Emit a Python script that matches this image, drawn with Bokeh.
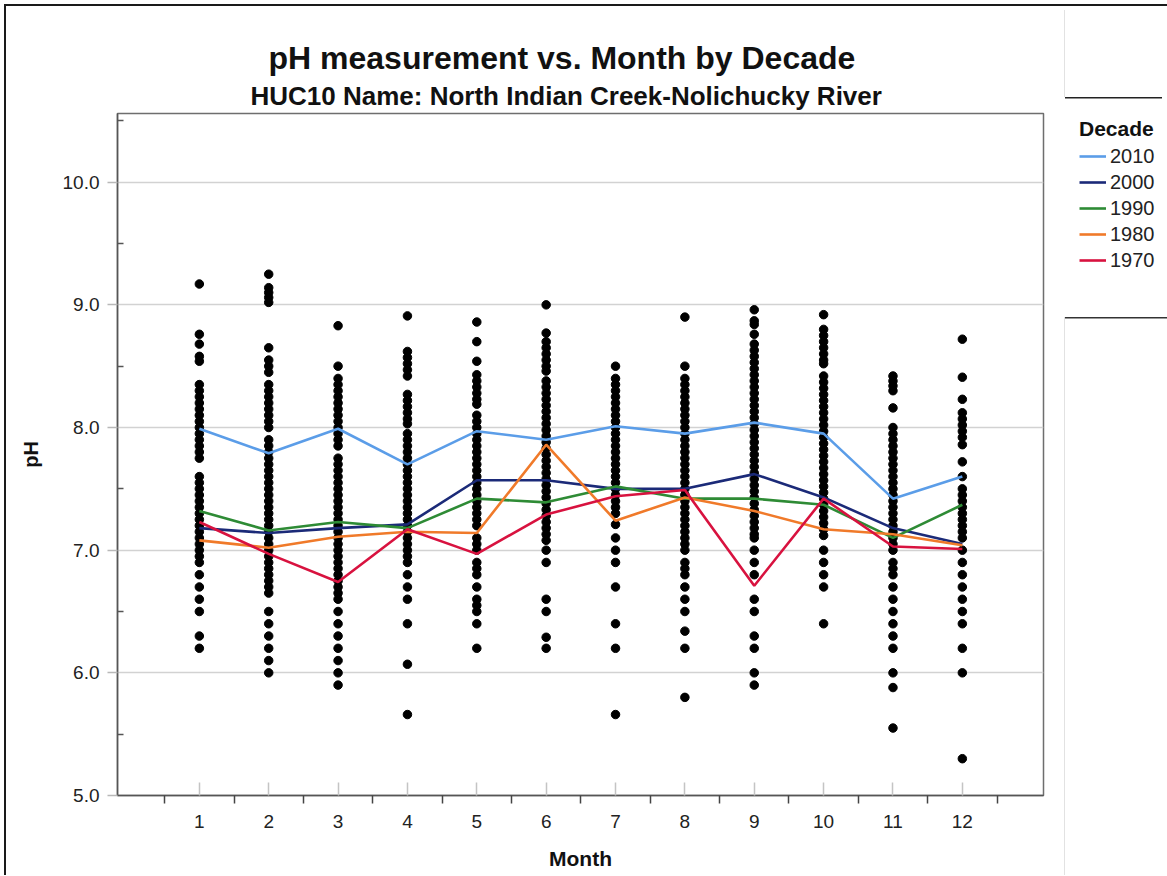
from bokeh.plotting import figure
from bokeh.models import (Range1d, FixedTicker, NumeralTickFormatter, Legend, LegendItem, Title)
from bokeh.embed import file_html
from bokeh.resources import INLINE

# ---------------- data ----------------
months = [1, 2, 3, 4, 5, 6, 7, 8, 9, 10, 11, 12]
month_labels = ["1", "2", "3", "4", "5", "6", "7", "8", "9", "10", "11", "12"]

ph_m1 = [9.17, 8.76, 8.68, 8.58, 8.54, 8.35, 8.3, 8.25, 8.2, 8.15, 8.1, 8.05, 8.0, 7.95, 7.9, 7.85,
         7.8, 7.75, 7.6, 7.55, 7.5, 7.45, 7.4, 7.35, 7.3, 7.25, 7.2, 7.15, 7.1, 7.05, 7.0, 6.95, 6.9,
         6.8, 6.7, 6.6, 6.5, 6.3, 6.2]
ph_m2 = [9.25, 9.14, 9.1, 9.06, 9.02, 8.65, 8.55, 8.5, 8.45, 8.35, 8.3, 8.25, 8.2, 8.15, 8.1, 8.05,
         8.0, 7.9, 7.85, 7.8, 7.75, 7.7, 7.65, 7.6, 7.55, 7.5, 7.45, 7.4, 7.35, 7.3, 7.25, 7.2, 7.15,
         7.1, 7.05, 7.0, 6.95, 6.9, 6.85, 6.8, 6.75, 6.7, 6.65, 6.5, 6.4, 6.3, 6.2, 6.1, 6.0]
ph_m3 = [8.83, 8.5, 8.4, 8.35, 8.3, 8.25, 8.2, 8.15, 8.1, 8.05, 8.0, 7.95, 7.9, 7.85, 7.75, 7.7,
         7.65, 7.6, 7.55, 7.5, 7.45, 7.4, 7.35, 7.3, 7.25, 7.2, 7.15, 7.1, 7.05, 7.0, 6.95, 6.9, 6.85,
         6.8, 6.75, 6.7, 6.65, 6.6, 6.5, 6.4, 6.3, 6.2, 6.1, 6.0, 5.9]
ph_m4 = [8.91, 8.62, 8.57, 8.52, 8.47, 8.42, 8.27, 8.22, 8.17, 8.12, 8.07, 8.03, 7.95, 7.9, 7.85,
         7.8, 7.75, 7.7, 7.65, 7.6, 7.55, 7.5, 7.45, 7.4, 7.35, 7.3, 7.25, 7.2, 7.15, 7.1, 7.05, 7.0,
         6.95, 6.9, 6.8, 6.7, 6.6, 6.4, 6.07, 5.66]
ph_m5 = [8.86, 8.7, 8.54, 8.43, 8.38, 8.33, 8.28, 8.23, 8.19, 8.1, 8.05, 8.0, 7.95, 7.9, 7.85, 7.8,
         7.75, 7.7, 7.65, 7.6, 7.55, 7.5, 7.45, 7.4, 7.35, 7.3, 7.25, 7.2, 7.1, 7.05, 7.0, 6.9, 6.85,
         6.8, 6.7, 6.6, 6.55, 6.5, 6.4, 6.2]
ph_m6 = [9.0, 8.77, 8.7, 8.65, 8.6, 8.55, 8.5, 8.46, 8.38, 8.33, 8.28, 8.23, 8.18, 8.13, 8.08, 8.03,
         7.98, 7.93, 7.88, 7.83, 7.78, 7.73, 7.68, 7.63, 7.58, 7.53, 7.48, 7.43, 7.38, 7.33, 7.28,
         7.23, 7.18, 7.13, 7.08, 7.0, 6.9, 6.6, 6.5, 6.29, 6.2]
ph_m7 = [8.5, 8.4, 8.35, 8.3, 8.25, 8.2, 8.15, 8.1, 8.05, 8.0, 7.95, 7.9, 7.85, 7.8, 7.75, 7.7, 7.65,
         7.6, 7.55, 7.5, 7.45, 7.4, 7.35, 7.3, 7.21, 7.1, 7.0, 6.9, 6.7, 6.4, 6.2, 5.66]
ph_m8 = [8.9, 8.5, 8.4, 8.35, 8.3, 8.25, 8.2, 8.15, 8.1, 8.05, 8.0, 7.95, 7.9, 7.85, 7.8, 7.75, 7.7,
         7.65, 7.6, 7.55, 7.5, 7.45, 7.4, 7.35, 7.3, 7.25, 7.2, 7.15, 7.1, 7.05, 7.0, 6.9, 6.85, 6.8,
         6.7, 6.6, 6.5, 6.34, 6.2, 5.8]
ph_m9 = [8.96, 8.87, 8.84, 8.76, 8.68, 8.63, 8.58, 8.53, 8.48, 8.43, 8.38, 8.33, 8.28, 8.23, 8.18,
         8.13, 8.08, 8.03, 7.98, 7.93, 7.88, 7.83, 7.78, 7.73, 7.68, 7.63, 7.58, 7.53, 7.48, 7.43,
         7.38, 7.33, 7.28, 7.23, 7.18, 7.13, 7.1, 7.0, 6.9, 6.8, 6.6, 6.5, 6.3, 6.2, 6.0, 5.9]
ph_m10 = [8.92, 8.8, 8.75, 8.7, 8.65, 8.6, 8.55, 8.52, 8.42, 8.37, 8.32, 8.27, 8.22, 8.17, 8.12,
          8.07, 8.02, 7.97, 7.92, 7.87, 7.82, 7.77, 7.72, 7.67, 7.62, 7.57, 7.52, 7.47, 7.42, 7.37,
          7.32, 7.27, 7.22, 7.17, 7.12, 7.0, 6.9, 6.8, 6.7, 6.4]
ph_m11 = [8.42, 8.38, 8.34, 8.3, 8.16, 8.0, 7.95, 7.9, 7.85, 7.8, 7.75, 7.7, 7.65, 7.6, 7.55, 7.5,
          7.45, 7.4, 7.35, 7.3, 7.25, 7.2, 7.15, 7.1, 7.05, 7.0, 6.9, 6.85, 6.8, 6.7, 6.6, 6.5, 6.4,
          6.3, 6.2, 6.0, 5.88, 5.55]
ph_m12 = [8.72, 8.41, 8.23, 8.12, 8.07, 8.02, 7.97, 7.92, 7.86, 7.72, 7.6, 7.5, 7.45, 7.4, 7.35,
          7.3, 7.25, 7.2, 7.15, 7.1, 7.0, 6.9, 6.8, 6.7, 6.6, 6.5, 6.4, 6.2, 6.0, 5.3]

decades = ["2010", "2000", "1990", "1980", "1970"]
mean_2010 = [7.99, 7.79, 7.99, 7.70, 7.97, 7.90, 8.01, 7.95, 8.04, 7.95, 7.42, 7.60]
mean_2000 = [7.18, 7.14, 7.18, 7.21, 7.57, 7.57, 7.50, 7.50, 7.62, 7.43, 7.18, 7.05]
mean_1990 = [7.32, 7.16, 7.23, 7.18, 7.42, 7.39, 7.52, 7.42, 7.42, 7.37, 7.10, 7.37]
mean_1980 = [7.08, 7.02, 7.11, 7.15, 7.14, 7.86, 7.24, 7.43, 7.32, 7.17, 7.13, 7.04]
mean_1970 = [7.23, 6.97, 6.74, 7.17, 6.97, 7.29, 7.44, 7.49, 6.71, 7.42, 7.03, 7.01]
decade_colors = ["#5B9DE8", "#1B2A78", "#2E8B35", "#F07A2A", "#D8123F"]

y_ticks = [5, 6, 7, 8, 9, 10]

# ---------------- figure ----------------
FONT = "Liberation Sans"
p = figure(frame_width=926, frame_height=682, output_backend="svg", toolbar_location=None,
           x_range=Range1d(-0.18, 13.17), y_range=Range1d(5.0, 10.56),
           min_border_left=111, min_border_right=123, min_border_top=107, min_border_bottom=80,
           background_fill_color="white", border_fill_alpha=0.0)
p.styles = {
    "margin-left": "4px", "margin-top": "4px",
    "border-top": "2px solid #1a1a1a", "border-left": "2px solid #1a1a1a",
    "background-color": "white",
    "background-image": ("linear-gradient(#e2e2e2,#e2e2e2), linear-gradient(#222,#222), "
                         "linear-gradient(#333,#333), linear-gradient(#e2e2e2,#e2e2e2)"),
    "background-size": "1px 87px, 97px 1.5px, 102px 1.5px, 1px 560px",
    "background-position": "1058px 4px, 1059px 91px, 1059px 311px, 1058px 311px",
    "background-repeat": "no-repeat",
}
p.outline_line_color = "#6e6e6e"
p.outline_line_width = 1.5

# axes
xa = p.xaxis[0]
xa.ticker = FixedTicker(ticks=months, minor_ticks=[m - 0.5 for m in months] + [12.5])
xa.major_label_overrides = {m: l for m, l in zip(months, month_labels)}
xa.axis_label = "Month"
xa.axis_label_text_font = FONT
xa.axis_label_text_font_size = "21px"
xa.axis_label_text_font_style = "bold"
xa.axis_label_text_color = "#111111"
xa.axis_label_standoff = 16
xa.major_label_text_font = FONT
xa.major_label_text_font_size = "19px"
xa.major_label_text_color = "#222222"
xa.major_label_standoff = 11
xa.axis_line_color = "#555555"
xa.axis_line_width = 1.5
xa.major_tick_in = 13
xa.major_tick_out = 0
xa.major_tick_line_color = "#c4c4c4"
xa.major_tick_line_width = 1.5
xa.minor_tick_in = 0
xa.minor_tick_out = 8
xa.minor_tick_line_color = "#444444"
xa.minor_tick_line_width = 1.5

ya = p.yaxis[0]
ya.ticker = FixedTicker(ticks=y_ticks, minor_ticks=[t + 0.5 for t in y_ticks])
ya.formatter = NumeralTickFormatter(format="0.0")
ya.axis_label = "pH"
ya.axis_label_text_font = FONT
ya.axis_label_text_font_size = "20px"
ya.axis_label_text_font_style = "bold"
ya.axis_label_text_color = "#111111"
ya.axis_label_standoff = 18
ya.major_label_text_font = FONT
ya.major_label_text_font_size = "19px"
ya.major_label_text_color = "#222222"
ya.major_label_standoff = 8
ya.axis_line_color = "#555555"
ya.axis_line_width = 1.5
ya.major_tick_in = 0
ya.major_tick_out = 10
ya.major_tick_line_color = "#b8b8b8"
ya.major_tick_line_width = 1.5
ya.minor_tick_in = 6
ya.minor_tick_out = 0
ya.minor_tick_line_color = "#555555"
ya.minor_tick_line_width = 1.5

p.xgrid.visible = False
p.ygrid.grid_line_color = "#d2d2d2"
p.ygrid.grid_line_width = 1.5

# points
all_months = [ph_m1, ph_m2, ph_m3, ph_m4, ph_m5, ph_m6, ph_m7, ph_m8, ph_m9, ph_m10, ph_m11, ph_m12]
xs, ys = [], []
for m, vals in zip(months, all_months):
    xs.extend([m] * len(vals))
    ys.extend(vals)
p.scatter(xs, ys, marker="circle", size=8.5, fill_color="black", line_color="black")

# decade mean lines
means = [mean_2010, mean_2000, mean_1990, mean_1980, mean_1970]
items = []
for dec, vals, col in zip(decades, means, decade_colors):
    r = p.line(months, vals, line_color=col, line_width=2.6)
    items.append(LegendItem(label=dec, renderers=[r]))

legend = Legend(items=items, location=(36, 522), title="Decade",
                title_text_font=FONT, title_text_font_size="21px", title_text_font_style="bold",
                title_text_color="#111111", title_standoff=2,
                label_text_font=FONT, label_text_font_size="20px", label_text_color="#222222",
                glyph_width=27, glyph_height=26, label_height=26, label_standoff=4,
                spacing=0, padding=3, margin=0, border_line_color=None,
                background_fill_alpha=0)
p.add_layout(legend, "right")

# titles (first added sits closest to the plot)
title_props = Title.properties()
sub = Title(text="HUC10 Name: North Indian Creek-Nolichucky River", align="left",
            text_font=FONT, text_font_size="26px", text_font_style="bold",
            text_color="#111111", offset=133)
main = Title(text="pH measurement vs. Month by Decade", align="left",
             text_font=FONT, text_font_size="32px", text_font_style="bold",
             text_color="#111111", offset=151)
if "standoff" in title_props:
    sub.standoff = 6
    main.standoff = 0
p.add_layout(sub, "above")
p.add_layout(main, "above")

open("out.html", "w").write(file_html(p, INLINE))
